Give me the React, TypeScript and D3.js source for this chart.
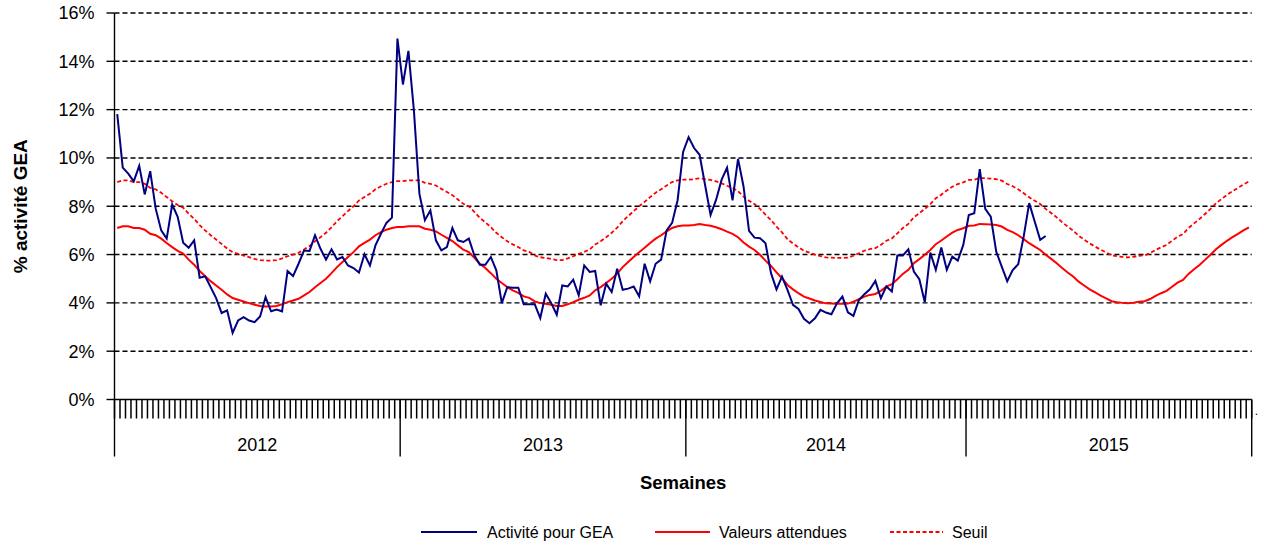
import React from "react";
import * as d3 from "d3";

const years = ["2012", "2013", "2014", "2015"];
const weeksPerYear = [52, 52, 51, 52];
const yTicks = [0, 2, 4, 6, 8, 10, 12, 14, 16];

const activite2012 = [11.81,9.60,9.35,9.03,9.67,8.49,9.45,7.90,7.00,6.66,8.07,7.56,6.49,6.28,6.59,5.04,5.10,4.65,4.20,3.58,3.69,2.76,3.27,3.41,3.27,3.20,3.44,4.24,3.65,3.72,3.65,5.32,5.11,5.62,6.17,6.15,6.80,6.24,5.79,6.22,5.80,5.90,5.55,5.44,5.26,6.01,5.55,6.38,6.86,7.31,7.53,14.94];
const activite2013 = [13.04,14.43,11.97,8.52,7.42,7.83,6.59,6.17,6.31,7.10,6.59,6.52,6.66,5.97,5.58,5.58,5.90,5.35,3.99,4.65,4.63,4.63,3.94,3.94,3.94,3.37,4.38,3.99,3.51,4.72,4.68,4.96,4.31,5.55,5.28,5.32,3.90,4.79,4.45,5.41,4.54,4.59,4.68,4.27,5.62,4.89,5.62,5.79,7.00,7.31,8.25,10.25];
const activite2014 = [10.86,10.41,10.13,8.88,7.64,8.26,9.09,9.60,8.24,9.96,8.82,6.98,6.70,6.68,6.47,5.23,4.56,5.09,4.54,3.92,3.75,3.34,3.16,3.36,3.71,3.60,3.53,3.98,4.26,3.61,3.46,4.12,4.36,4.56,4.91,4.19,4.68,4.47,5.96,5.96,6.22,5.30,4.98,4.03,6.08,5.37,6.29,5.37,5.92,5.75,6.40];
const activite2015 = [7.64,7.71,9.54,7.89,7.57,6.12,5.50,4.90,5.36,5.60,6.75,8.13,7.37,6.61,6.77];

const attendues2012 = [7.10,7.17,7.17,7.10,7.10,7.03,6.86,6.80,6.66,6.48,6.31,6.15,6.04,5.79,5.58,5.32,5.10,4.90,4.72,4.54,4.35,4.20,4.13,4.06,3.99,3.92,3.87,3.85,3.85,3.87,3.94,4.03,4.10,4.17,4.31,4.45,4.65,4.82,5.00,5.23,5.48,5.69,5.90,6.10,6.34,6.48,6.62,6.80,6.93,7.03,7.10,7.14];
const attendues2013 = [7.14,7.17,7.17,7.17,7.07,7.03,6.96,6.82,6.69,6.56,6.38,6.20,6.10,5.87,5.62,5.44,5.23,5.00,4.82,4.65,4.52,4.41,4.27,4.21,4.06,3.99,3.96,3.92,3.87,3.87,3.94,4.03,4.13,4.21,4.31,4.52,4.65,4.82,5.00,5.21,5.48,5.69,5.90,6.10,6.28,6.48,6.66,6.80,6.96,7.10,7.17,7.20];
const attendues2014 = [7.20,7.22,7.26,7.22,7.19,7.13,7.05,6.95,6.86,6.72,6.50,6.33,6.19,5.99,5.75,5.53,5.26,5.02,4.74,4.56,4.40,4.26,4.18,4.10,4.04,3.98,3.97,3.96,3.96,3.97,4.05,4.15,4.26,4.33,4.37,4.50,4.67,4.77,4.98,5.20,5.37,5.64,5.81,5.99,6.19,6.43,6.58,6.75,6.91,7.02,7.09];
const attendues2015 = [7.19,7.20,7.27,7.26,7.24,7.22,7.16,7.02,6.93,6.80,6.64,6.47,6.33,6.19,5.99,5.82,5.64,5.44,5.26,5.09,4.88,4.72,4.56,4.43,4.30,4.19,4.07,4.03,4.00,3.98,4.01,4.05,4.07,4.16,4.29,4.40,4.50,4.67,4.84,4.95,5.20,5.39,5.57,5.78,5.99,6.22,6.40,6.57,6.72,6.86,7.00,7.13];

const seuil2012 = [9.00,9.07,9.07,9.00,9.00,8.93,8.76,8.70,8.56,8.38,8.21,8.05,7.94,7.69,7.48,7.22,7.00,6.80,6.62,6.44,6.25,6.10,6.03,5.96,5.89,5.82,5.77,5.75,5.75,5.77,5.84,5.93,6.00,6.07,6.21,6.35,6.55,6.72,6.90,7.13,7.38,7.59,7.80,8.00,8.24,8.38,8.52,8.70,8.83,8.93,9.00,9.04];
const seuil2013 = [9.04,9.07,9.07,9.07,8.97,8.93,8.86,8.72,8.59,8.46,8.28,8.10,8.00,7.77,7.52,7.34,7.13,6.90,6.72,6.55,6.42,6.31,6.17,6.11,5.96,5.89,5.86,5.82,5.77,5.77,5.84,5.93,6.03,6.11,6.21,6.42,6.55,6.72,6.90,7.11,7.38,7.59,7.80,8.00,8.18,8.38,8.56,8.70,8.86,9.00,9.07,9.10];
const seuil2014 = [9.10,9.12,9.16,9.12,9.09,9.03,8.95,8.85,8.76,8.62,8.40,8.23,8.09,7.89,7.65,7.43,7.16,6.92,6.64,6.46,6.30,6.16,6.08,6.00,5.94,5.88,5.87,5.86,5.86,5.87,5.95,6.05,6.16,6.23,6.27,6.40,6.57,6.67,6.88,7.10,7.27,7.54,7.71,7.89,8.09,8.33,8.48,8.65,8.81,8.92,8.99];
const seuil2015 = [9.09,9.10,9.17,9.16,9.14,9.12,9.06,8.92,8.83,8.70,8.54,8.37,8.23,8.09,7.89,7.72,7.54,7.34,7.16,6.99,6.78,6.62,6.46,6.33,6.20,6.09,5.97,5.93,5.90,5.88,5.91,5.95,5.97,6.06,6.19,6.30,6.40,6.57,6.74,6.85,7.10,7.29,7.47,7.68,7.89,8.12,8.30,8.47,8.62,8.76,8.90,9.03];

const activite = [...activite2012, ...activite2013, ...activite2014, ...activite2015];
const attendues = [...attendues2012, ...attendues2013, ...attendues2014, ...attendues2015];
const seuil = [...seuil2012, ...seuil2013, ...seuil2014, ...seuil2015];

const FONT = "'Liberation Sans', Arial, sans-serif";

export default function App() {
  const W = 1264, H = 546;
  const left = 114.5, right = 1251.7, top = 13, bottom = 399.5;
  const totalWeeks = d3.sum(weeksPerYear);
  const x = d3.scaleLinear().domain([0, totalWeeks]).range([left, right]);
  const y = d3.scaleLinear().domain([0, 16]).range([bottom, top]);
  const line = d3.line<number>().x((_, i) => x(i + 0.5)).y((v) => y(v));

  const boundaries: number[] = [0];
  weeksPerYear.forEach((n) => boundaries.push(boundaries[boundaries.length - 1] + n));
  const weekTicks = d3.range(0, totalWeeks + 1);

  return (
    <div style={{ position: "absolute", left: 0, top: 0 }}>
      <svg width={W} height={H} style={{ display: "block", fontFamily: FONT }}>
        <rect width={W} height={H} fill="#fff" />
        {yTicks.filter((t) => t > 0).map((t) => (
          <line key={"g" + t} x1={left} x2={right} y1={y(t)} y2={y(t)} stroke="#000" strokeWidth={1.4} strokeDasharray="5,3" />
        ))}
        <line x1={left} x2={left} y1={top} y2={bottom} stroke="#000" strokeWidth={1.4} />
        {yTicks.map((t) => (
          <g key={"yt" + t}>
            <line x1={left - 8} x2={left} y1={y(t)} y2={y(t)} stroke="#000" strokeWidth={1.4} />
            <text x={left - 20} y={y(t)} dy="0.36em" textAnchor="end" fontSize={18} fill="#000">{t}%</text>
          </g>
        ))}
        <line x1={left} x2={right} y1={bottom} y2={bottom} stroke="#000" strokeWidth={1.4} />
        {weekTicks.map((k) => (
          <line key={"wt" + k} x1={x(k)} x2={x(k)} y1={bottom} y2={bottom + 19} stroke="#000" strokeWidth={1.5} />
        ))}
        {boundaries.map((k) => (
          <line key={"yb" + k} x1={x(k)} x2={x(k)} y1={bottom} y2={bottom + 57} stroke="#000" strokeWidth={1.4} />
        ))}
        <text x={right + 3} y={bottom + 15} fontSize={12} fill="#000">.</text>
        {years.map((yr, i) => (
          <text key={yr} x={(x(boundaries[i]) + x(boundaries[i + 1])) / 2} y={451} textAnchor="middle" fontSize={18} fill="#000">{yr}</text>
        ))}
        <text x={(left + right) / 2} y={489} textAnchor="middle" fontSize={18.5} fontWeight="bold" fill="#000">Semaines</text>
        <text transform={`translate(27,${(top + bottom) / 2}) rotate(-90)`} textAnchor="middle" fontSize={19} fontWeight="bold" fill="#000">% activité GEA</text>

        <path d={line(seuil) || ""} fill="none" stroke="#ff0000" strokeWidth={1.8} strokeDasharray="4,2.5" />
        <path d={line(attendues) || ""} fill="none" stroke="#ff0000" strokeWidth={2} />
        <path d={line(activite) || ""} fill="none" stroke="#000080" strokeWidth={2} />

        <g fontSize={16} fill="#000">
          <line x1={421} x2={477} y1={532} y2={532} stroke="#000080" strokeWidth={2} />
          <text x={487} y={538}>Activité pour GEA</text>
          <line x1={655} x2={710} y1={532} y2={532} stroke="#ff0000" strokeWidth={2} />
          <text x={719} y={538}>Valeurs attendues</text>
          <line x1={890} x2={943} y1={532} y2={532} stroke="#ff0000" strokeWidth={1.8} strokeDasharray="4,2.5" />
          <text x={952} y={538}>Seuil</text>
        </g>
      </svg>
    </div>
  );
}
